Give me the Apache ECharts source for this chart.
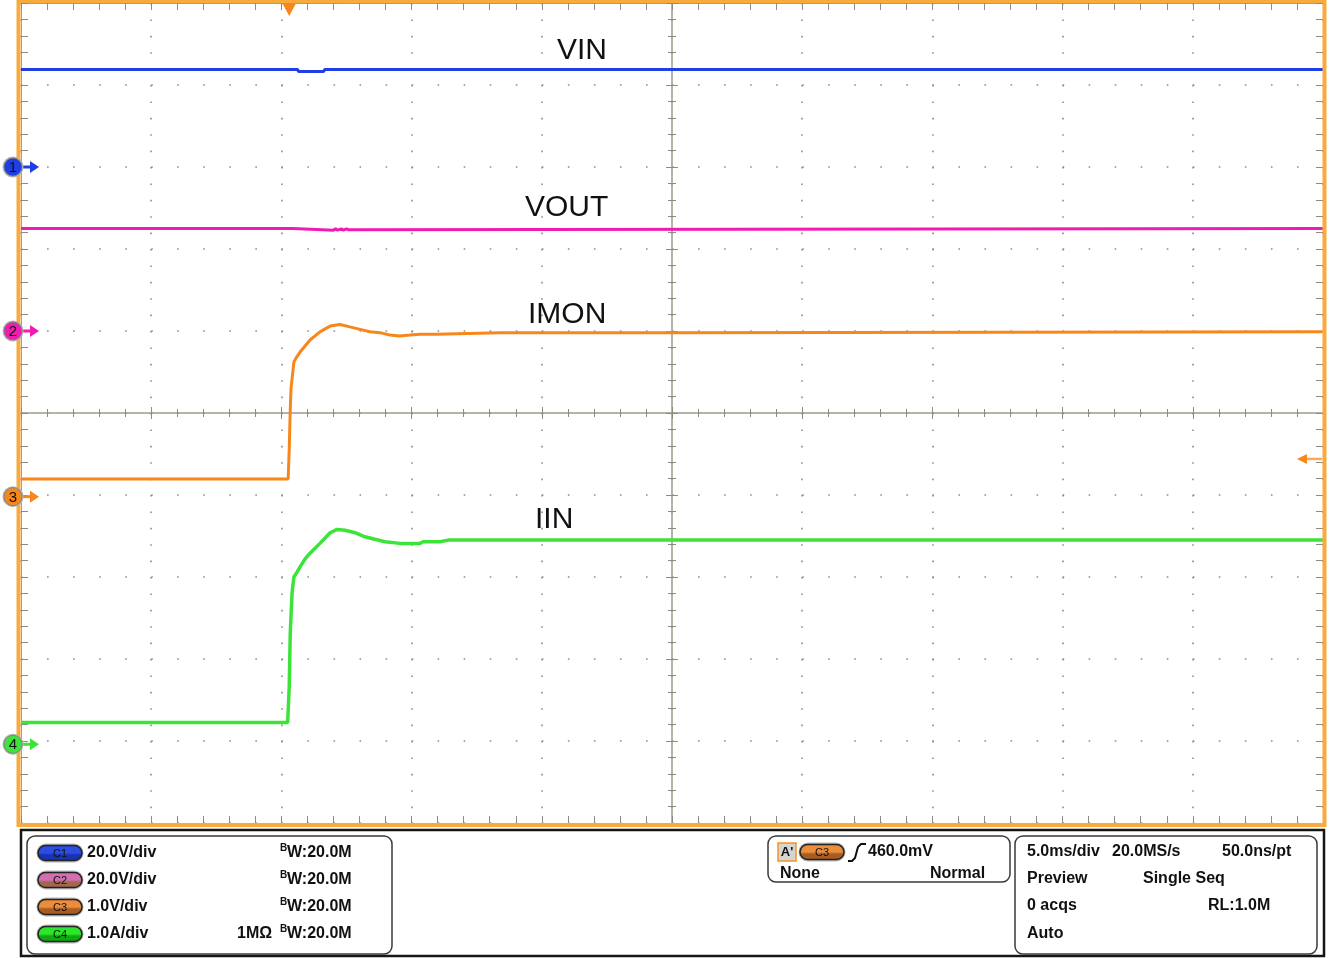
<!DOCTYPE html>
<html><head><meta charset="utf-8">
<script src="https://cdn.jsdelivr.net/npm/echarts@6.0.0/dist/echarts.min.js"></script>
<style>html,body{margin:0;padding:0;background:#fff}#c{width:1333px;height:958px}</style>
</head><body><div id="c"></div>
<script>
// ---------------- data ----------------
const timeRange = [-10, 40];      // ms (5 ms/div, 10 div)
const timeStep = 5;
const divRange = [-5, 5];         // vertical divisions
const triggerTime = 0.3;          // ms
const triggerLevel = 0.46;        // V on C3

const chNames = ['1', '2', '3', '4'];
const chScale = [20, 20, 1, 1];            // units / div
const chOffset = [3.0, 1.0, -1.02, -4.04]; // ground marker position (div from centre)
const chColors = ['#1f3fe4', '#f01cb2', '#f7861b', '#3ce43a'];

// VIN (V)
const vinT = [-10, 0.62, 0.66, 1.62, 1.67, 40];
const vinV = [23.8, 23.8, 23.3, 23.3, 23.8, 23.8];
// VOUT (V)
const voutT = [-10, 0.45, 0.5, 2.0, 2.08, 2.16, 2.3, 2.38, 2.5, 2.58, 2.65, 40];
const voutV = [25.0, 25.0, 24.6, 24.6, 24.9, 24.6, 24.9, 24.6, 24.9, 24.7, 25.0, 25.0];
// IMON (V)
const imonT = [-10, 0.26, 0.30, 0.34, 0.37, 0.48, 0.56, 0.71, 1.10, 1.48, 1.87, 2.25, 2.63, 3.02, 3.40, 3.79, 4.17, 4.55, 4.94, 5.32, 5.96, 6.0, 8.4, 15, 40];
const imonV = [0.215, 0.215, 0.57, 1.06, 1.32, 1.64, 1.69, 1.76, 1.91, 2.01, 2.08, 2.10, 2.07, 2.04, 2.01, 2.00, 1.97, 1.96, 1.97, 1.98, 1.98, 2.00, 2.00, 2.00, 2.01];
// IIN (A)
const iinT = [-10, 0.24, 0.30, 0.34, 0.38, 0.41, 0.48, 0.60, 0.71, 0.91, 1.10, 1.48, 1.87, 2.14, 2.44, 2.83, 3.21, 3.59, 3.98, 4.55, 5.32, 5.44, 6.09, 6.40, 8.39, 40];
const iinV = [0.265, 0.265, 0.70, 1.36, 1.64, 1.85, 2.04, 2.10, 2.16, 2.26, 2.33, 2.45, 2.58, 2.62, 2.61, 2.58, 2.53, 2.50, 2.47, 2.45, 2.45, 2.47, 2.47, 2.49, 2.49, 2.49];

const traceNames = ['VIN', 'VOUT', 'IMON', 'IIN'];
const traceT = [vinT, voutT, imonT, iinT];
const traceV = [vinV, voutV, imonV, iinV];

// settings panel text
const chSettings = ['20.0V/div', '20.0V/div', '1.0V/div', '1.0A/div'];
const bwText = 'W:20.0M';

// ---------------- chart ----------------
const chart = echarts.init(document.getElementById('c'), null, {renderer: 'canvas'});
const GRID = {left: 21, top: 3, right: 10, bottom: 135};
const gridW = 1333 - GRID.left - GRID.right;
const gridH = 958 - GRID.top - GRID.bottom;

const tickStyle = {color: '#8d8d7f', width: 1};
const xBase = {type: 'value', min: timeRange[0], max: timeRange[1], interval: timeStep,
  axisLabel: {show: false}, splitLine: {show: false}};
const yBase = {type: 'value', min: divRange[0], max: divRange[1], interval: 1,
  axisLabel: {show: false}, splitLine: {show: false}};

function edge(base, pos, extra) {
  return Object.assign({}, base, {
    position: pos,
    axisLine: {show: true, onZero: false, lineStyle: {color: '#a09f93', width: 1}},
    axisTick: {show: true, inside: true, length: 7, lineStyle: tickStyle},
    minorTick: {show: true, splitNumber: 5, length: 7, lineStyle: tickStyle}
  }, extra || {});
}
function centre(base, pos, offset, inside, showLine) {
  return Object.assign({}, base, {
    position: pos, offset: offset,
    axisLine: {show: showLine, onZero: false, lineStyle: {color: '#9d9b8f', width: 1.5}},
    axisTick: {show: true, inside: inside, length: 6, lineStyle: tickStyle},
    minorTick: {show: true, splitNumber: 5, length: 4, lineStyle: tickStyle}
  });
}

const xAxis = [
  edge(xBase, 'bottom', {splitLine: {show: true, lineStyle: {color: '#8e8e80', width: 1.6, type: [1.6, gridH / 50 - 1.6]}}}),
  edge(xBase, 'top'),
  centre(xBase, 'bottom', -gridH / 2, false, true),
  centre(xBase, 'bottom', -gridH / 2, true, false)
];
const yAxis = [
  edge(yBase, 'left', {splitLine: {show: true, lineStyle: {color: '#8e8e80', width: 1.6, type: [1.6, gridW / 50 - 1.6]}}}),
  edge(yBase, 'right'),
  centre(yBase, 'left', -gridW / 2, false, true),
  centre(yBase, 'left', -gridW / 2, true, false)
];
for (let i = 0; i < 4; i++) {
  yAxis.push({type: 'value', show: false,
    min: (divRange[0] - chOffset[i]) * chScale[i],
    max: (divRange[1] - chOffset[i]) * chScale[i]});
}

const series = traceNames.map((n, i) => ({
  name: n, type: 'line', xAxisIndex: 0, yAxisIndex: 4 + i,
  data: traceT[i].map((t, k) => [t, traceV[i][k]]),
  showSymbol: false, symbol: 'none', silent: true, z: 5,
  lineStyle: {color: chColors[i], width: i === 3 ? 3.5 : 3}
}));

chart.setOption({
  animation: false,
  backgroundColor: '#ffffff',
  grid: Object.assign({}, GRID, {containLabel: false, outerBoundsMode: 'none'}),
  xAxis: xAxis, yAxis: yAxis, series: series
});

// ---------------- decorations ----------------
const px = t => chart.convertToPixel({xAxisIndex: 0}, t);
const py = (i, v) => chart.convertToPixel({yAxisIndex: 4 + i}, v);
const FONT = '"Liberation Sans", Arial, Helvetica, sans-serif';
function txt(x, y, s, size, opts) {
  opts = opts || {};
  return {type: 'text', x: x, y: y, z: opts.z || 70, silent: true,
    style: {text: s, fill: opts.fill || '#111',
      font: (opts.bold === false ? '' : 'bold ') + size + 'px ' + FONT,
      align: opts.align || 'left', textAlign: opts.align || 'left',
      verticalAlign: 'middle', textVerticalAlign: 'middle'}};
}
const g = [];
// orange frame
g.push({type: 'rect', z: 50, silent: true, shape: {x: 18.5, y: 1, width: 1306, height: 824},
  style: {fill: 'none', stroke: '#f8ab3c', lineWidth: 4}});

// channel ground markers
for (let i = 0; i < 4; i++) {
  const y = py(i, 0);
  g.push({type: 'line', z: 60, shape: {x1: 20, y1: y, x2: 32, y2: y}, style: {stroke: chColors[i], lineWidth: 3}});
  g.push({type: 'polygon', z: 60, shape: {points: [[30, y - 6], [39, y], [30, y + 6]]}, style: {fill: chColors[i]}});
  g.push({type: 'circle', z: 61, shape: {cx: 13, cy: y, r: 10.5}, style: {fill: '#b4b4b4'}});
  g.push({type: 'circle', z: 61, shape: {cx: 13, cy: y, r: 9}, style: {fill: chColors[i], stroke: '#7a7a7a', lineWidth: 0.8}});
  g.push(txt(13, y + 1, chNames[i], 15, {bold: false, align: 'center', z: 62}));
}
// trigger position marker
const tx = px(triggerTime);
g.push({type: 'polygon', z: 60, shape: {points: [[tx - 7, 3], [tx + 7, 3], [tx, 16]]}, style: {fill: '#f7861b'}});
// trigger level marker
const ty = py(2, triggerLevel);
g.push({type: 'line', z: 60, shape: {x1: 1305, y1: ty, x2: 1322, y2: ty}, style: {stroke: '#f9a95a', lineWidth: 2.5}});
g.push({type: 'polygon', z: 60, shape: {points: [[1297, ty], [1307, ty - 5], [1307, ty + 5]]}, style: {fill: '#f7861b'}});

// trace labels
const labelPos = [[557, 51], [525, 208], [528, 315], [535, 520]];
traceNames.forEach((n, i) => g.push(txt(labelPos[i][0], labelPos[i][1], n, 30, {bold: false})));

// ---------------- bottom panel ----------------
g.push({type: 'rect', z: 40, shape: {x: 21, y: 830, width: 1303, height: 126}, style: {fill: '#fff', stroke: '#161616', lineWidth: 2.5}});
const boxes = [[27, 836, 365, 118], [768, 836, 242, 46], [1015, 836, 302, 118]];
boxes.forEach(b => g.push({type: 'rect', z: 41, shape: {x: b[0], y: b[1], width: b[2], height: b[3], r: 8},
  style: {fill: '#fff', stroke: '#3a3a3a', lineWidth: 1.5}}));

const badgeCols = [['#2d4de0', '#1733b4'], ['#d26fb2', '#a5664f'], ['#ec8d3c', '#a85c22'], ['#2be62b', '#12a812']];
function badge(x, cy, label, cols) {
  g.push({type: 'rect', z: 42, shape: {x: x - 1.5, y: cy - 9.5, width: 47, height: 19, r: 9.5}, style: {fill: '#b8b8b8'}});
  g.push({type: 'rect', z: 43, shape: {x: x, y: cy - 7.5, width: 44, height: 15, r: 7.5},
    style: {stroke: '#222', lineWidth: 1.5, fill: {type: 'linear', x: 0, y: 0, x2: 0, y2: 1,
      colorStops: [{offset: 0, color: cols[0]}, {offset: 0.5, color: cols[0]}, {offset: 0.62, color: cols[1]}, {offset: 1, color: cols[1]}]}}});
  g.push(txt(x + 22, cy + 0.5, label, 11, {bold: false, align: 'center', z: 44}));
}
const rowY = [853, 880, 907, 934];
for (let i = 0; i < 4; i++) {
  badge(38, rowY[i], 'C' + chNames[i], badgeCols[i]);
  g.push(txt(87, rowY[i], chSettings[i], 16));
  g.push(txt(280, rowY[i] - 5, 'B', 10));
  g.push(txt(287, rowY[i], bwText, 16));
}
g.push(txt(237, rowY[3], '1MΩ', 16));

// trigger box
g.push({type: 'rect', z: 42, shape: {x: 778, y: 843, width: 18, height: 18}, style: {fill: '#d4d4d4', stroke: '#f7931e', lineWidth: 1.5}});
g.push(txt(787, 852, "A'", 13, {align: 'center', z: 44}));
badge(800, 852, 'C3', badgeCols[2]);
g.push({type: 'polyline', z: 44, shape: {points: [[848, 861], [852, 861], [855, 858], [858, 847], [861, 844], [866, 844]]},
  style: {stroke: '#111', lineWidth: 2, fill: 'none'}});
g.push(txt(868, 852, '460.0mV', 16));
g.push(txt(780, 874, 'None', 16));
g.push(txt(930, 874, 'Normal', 16));

// timebase box
g.push(txt(1027, 852, '5.0ms/div', 16));
g.push(txt(1112, 852, '20.0MS/s', 16));
g.push(txt(1222, 852, '50.0ns/pt', 16));
g.push(txt(1027, 879, 'Preview', 16));
g.push(txt(1143, 879, 'Single Seq', 16));
g.push(txt(1027, 906, '0 acqs', 16));
g.push(txt(1208, 906, 'RL:1.0M', 16));
g.push(txt(1027, 934, 'Auto', 16));

chart.setOption({graphic: {elements: g}});
</script>
</body></html>
